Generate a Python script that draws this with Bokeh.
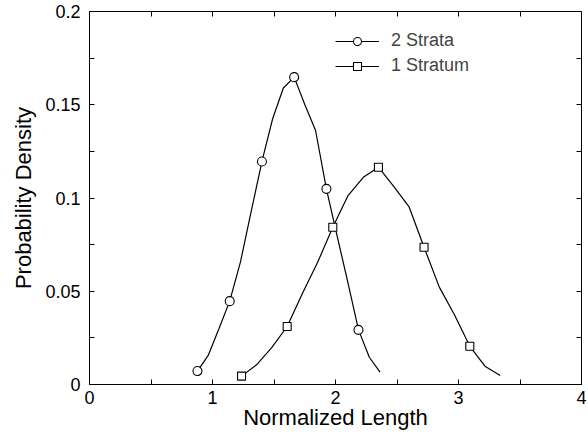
from bokeh.plotting import figure
from bokeh.models import (Range1d, LinearAxis, FixedTicker, Legend, LegendItem)
from bokeh.embed import file_html
from bokeh.resources import INLINE

# ---- data ----
strata2_x = [0.878, 0.965, 1.053, 1.140, 1.227, 1.315, 1.402, 1.489, 1.576,
             1.664, 1.751, 1.838, 1.926, 2.013, 2.100, 2.187, 2.275, 2.362]
strata2_y = [0.0072, 0.0156, 0.0300, 0.0447, 0.0656, 0.0930, 0.1196, 0.1425, 0.1590,
             0.1648, 0.1500, 0.1362, 0.1049, 0.0797, 0.0549, 0.0293, 0.0146, 0.0066]
stratum1_x = [1.236, 1.360, 1.483, 1.607, 1.731, 1.854, 1.978, 2.102, 2.226,
              2.349, 2.473, 2.597, 2.720, 2.844, 2.968, 3.092, 3.215, 3.339]
stratum1_y = [0.0045, 0.0107, 0.0199, 0.0311, 0.0488, 0.0654, 0.0843, 0.1013, 0.1111,
              0.1165, 0.1062, 0.0954, 0.0736, 0.0522, 0.0373, 0.0205, 0.0098, 0.0048]
marker_every = 3

x_ticks = [0, 1, 2, 3, 4]
x_tick_labels = ["0", "1", "2", "3", "4"]
x_minor = [0.5, 1.5, 2.5, 3.5]
y_ticks = [0, 0.05, 0.1, 0.15, 0.2]
y_tick_labels = ["0", "0.05", "0.1", "0.15", "0.2"]
y_minor = [0.025, 0.075, 0.125, 0.175]

series_names = ["2 Strata", "1 Stratum"]
x_label = "Normalized Length"
y_label = "Probability Density"

FONT = "Liberation Sans"

p = figure(width=588, height=435, output_backend="svg", toolbar_location=None,
           x_range=Range1d(0, 4), y_range=Range1d(0, 0.2),
           min_border_left=89, min_border_right=7, min_border_top=11,
           min_border_bottom=51, x_axis_label=x_label, y_axis_label=y_label)
p.background_fill_color = "white"
p.border_fill_color = "white"
p.grid.visible = False
p.outline_line_color = "black"
p.outline_line_width = 1

def style_axis(ax, ticks, minor):
    ax.ticker = FixedTicker(ticks=ticks, minor_ticks=minor)
    ax.major_tick_in = 5
    ax.major_tick_out = 0
    ax.minor_tick_in = 5
    ax.minor_tick_out = 0
    ax.axis_line_color = "black"
    ax.major_tick_line_color = "black"
    ax.minor_tick_line_color = "black"
    ax.major_label_text_font = FONT
    ax.major_label_text_color = "black"
    ax.axis_label_text_font = FONT
    ax.axis_label_text_font_style = "normal"
    ax.axis_label_text_color = "black"

xa = p.xaxis[0]
style_axis(xa, x_ticks, x_minor)
xa.major_label_overrides = {t: s for t, s in zip(x_ticks, x_tick_labels)}
xa.major_label_text_font_size = "18px"
xa.major_label_standoff = 6
xa.axis_label_text_font_size = "22px"
xa.axis_label_standoff = -2

ya = p.yaxis[0]
style_axis(ya, y_ticks, y_minor)
ya.major_label_overrides = {t: s for t, s in zip(y_ticks, y_tick_labels)}
ya.major_label_text_font_size = "18px"
ya.major_label_standoff = 9
ya.major_label_orientation = "horizontal"
ya.axis_label_text_font_size = "22px"
ya.axis_label_standoff = 6

# tick-only mirror axes on top and right (no labels)
top = LinearAxis(fixed_location=0.2)
style_axis(top, x_ticks, x_minor)
top.major_label_overrides = {t: "" for t in x_ticks}
p.add_layout(top, "above")
right = LinearAxis(fixed_location=4)
style_axis(right, y_ticks, y_minor)
right.major_label_overrides = {t: "" for t in y_ticks}
p.add_layout(right, "right")

# curves
l1 = p.line(strata2_x, strata2_y, line_color="black", line_width=1.2)
m1 = p.scatter(strata2_x[::marker_every], strata2_y[::marker_every], marker="circle",
               size=9, fill_color="white", line_color="black", line_width=1.1)
l2 = p.line(stratum1_x, stratum1_y, line_color="black", line_width=1.2)
m2 = p.scatter(stratum1_x[::marker_every], stratum1_y[::marker_every], marker="square",
               size=8, fill_color="white", line_color="black", line_width=1.1)

legend = Legend(items=[LegendItem(label=series_names[0], renderers=[l1, m1]),
                       LegendItem(label=series_names[1], renderers=[l2, m2])],
                location=(246, 308), padding=0, margin=0, spacing=4,
                glyph_width=44, glyph_height=20, label_height=20, label_standoff=12,
                label_text_font=FONT, label_text_font_size="18px",
                border_line_color=None, background_fill_alpha=0)
p.add_layout(legend, "center")

open("out.html", "w").write(file_html(p, INLINE))
